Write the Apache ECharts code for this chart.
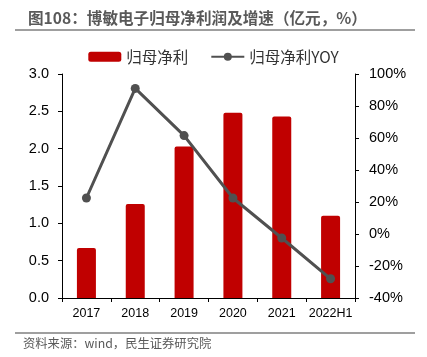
<!DOCTYPE html>
<html><head><meta charset="utf-8">
<script src="https://cdn.jsdelivr.net/npm/echarts@6/dist/echarts.min.js"></script>
<style>html,body{margin:0;padding:0;background:#fff;}#c{width:427px;height:357px;}</style>
</head><body><div id="c"></div>
<script>
var categories = ['2017','2018','2019','2020','2021','2022H1'];
var netProfit = [0.67, 1.26, 2.03, 2.48, 2.43, 1.10];
var yoy = [22.5, 91, 61.5, 22.5, -2.5, -28];
var leftTicks = [0, 3, 0.5];
var rightTicks = [-40, 100, 20];

var chart = echarts.init(document.getElementById('c'));
var font = '"Noto Sans CJK SC", "Liberation Sans", Arial, sans-serif';
var num = '"Liberation Sans", Arial, sans-serif';
chart.setOption({
  animation: false,
  textStyle: {fontFamily: font},
  title: {
    text: '图108：博敏电子归母净利润及增速（亿元，%）',
    left: 23, top: 5,
    textStyle: {fontSize: 15.6, fontWeight: 'bold', color: '#595959', fontFamily: font}
  },
  graphic: [
    {type: 'line', shape: {x1: 15, y1: 30, x2: 415, y2: 30}, style: {stroke: '#7f7f7f', lineWidth: 1.5}},
    {type: 'line', shape: {x1: 15, y1: 333, x2: 415, y2: 333}, style: {stroke: '#7f7f7f', lineWidth: 1.5}},
    {type: 'text', left: 23, top: 337, style: {text: '资料来源：wind，民生证券研究院', fontSize: 12.3, fill: '#595959', fontFamily: font}}
  ],
  legend: {
    top: 44, left: 'center', itemGap: 22,
    textStyle: {fontSize: 15.5, color: '#333', fontFamily: font},
    data: [
      {name: '归母净利', icon: 'roundRect', itemStyle: {color: '#C00000'}},
      {name: '归母净利YOY'}
    ],
    itemWidth: 33, itemHeight: 10
  },
  grid: {left: 62, right: 72, top: 74, bottom: 59},
  xAxis: {
    type: 'category', data: categories,
    axisLine: {lineStyle: {color: '#000', width: 1}},
    axisTick: {show: true, alignWithLabel: false, length: 4, lineStyle: {color: '#000'}},
    axisLabel: {color: '#000', fontSize: 12.5, margin: 9, interval: 0, fontFamily: num}
  },
  yAxis: [
    {
      type: 'value', min: leftTicks[0], max: leftTicks[1], interval: leftTicks[2],
      axisLine: {show: true, lineStyle: {color: '#000'}},
      axisTick: {show: true, length: 4, lineStyle: {color: '#000'}},
      splitLine: {show: false},
      axisLabel: {color: '#000', fontSize: 14.5, margin: 13, fontFamily: num,
        formatter: function(v){return v.toFixed(1);}}
    },
    {
      type: 'value', min: rightTicks[0], max: rightTicks[1], interval: rightTicks[2],
      axisLine: {show: true, lineStyle: {color: '#000'}},
      axisTick: {show: true, length: 4, lineStyle: {color: '#000'}},
      splitLine: {show: false},
      axisLabel: {color: '#000', fontSize: 14.5, margin: 14, fontFamily: num,
        formatter: function(v){return v + '%';}}
    }
  ],
  series: [
    {
      name: '归母净利', type: 'bar', data: netProfit, barWidth: 19,
      itemStyle: {color: '#C00000', borderRadius: [2,2,0,0]}
    },
    {
      name: '归母净利YOY', type: 'line', yAxisIndex: 1, data: yoy,
      symbol: 'circle', symbolSize: 9,
      lineStyle: {color: '#505050', width: 3},
      itemStyle: {color: '#505050'}
    }
  ]
});
</script></body></html>
